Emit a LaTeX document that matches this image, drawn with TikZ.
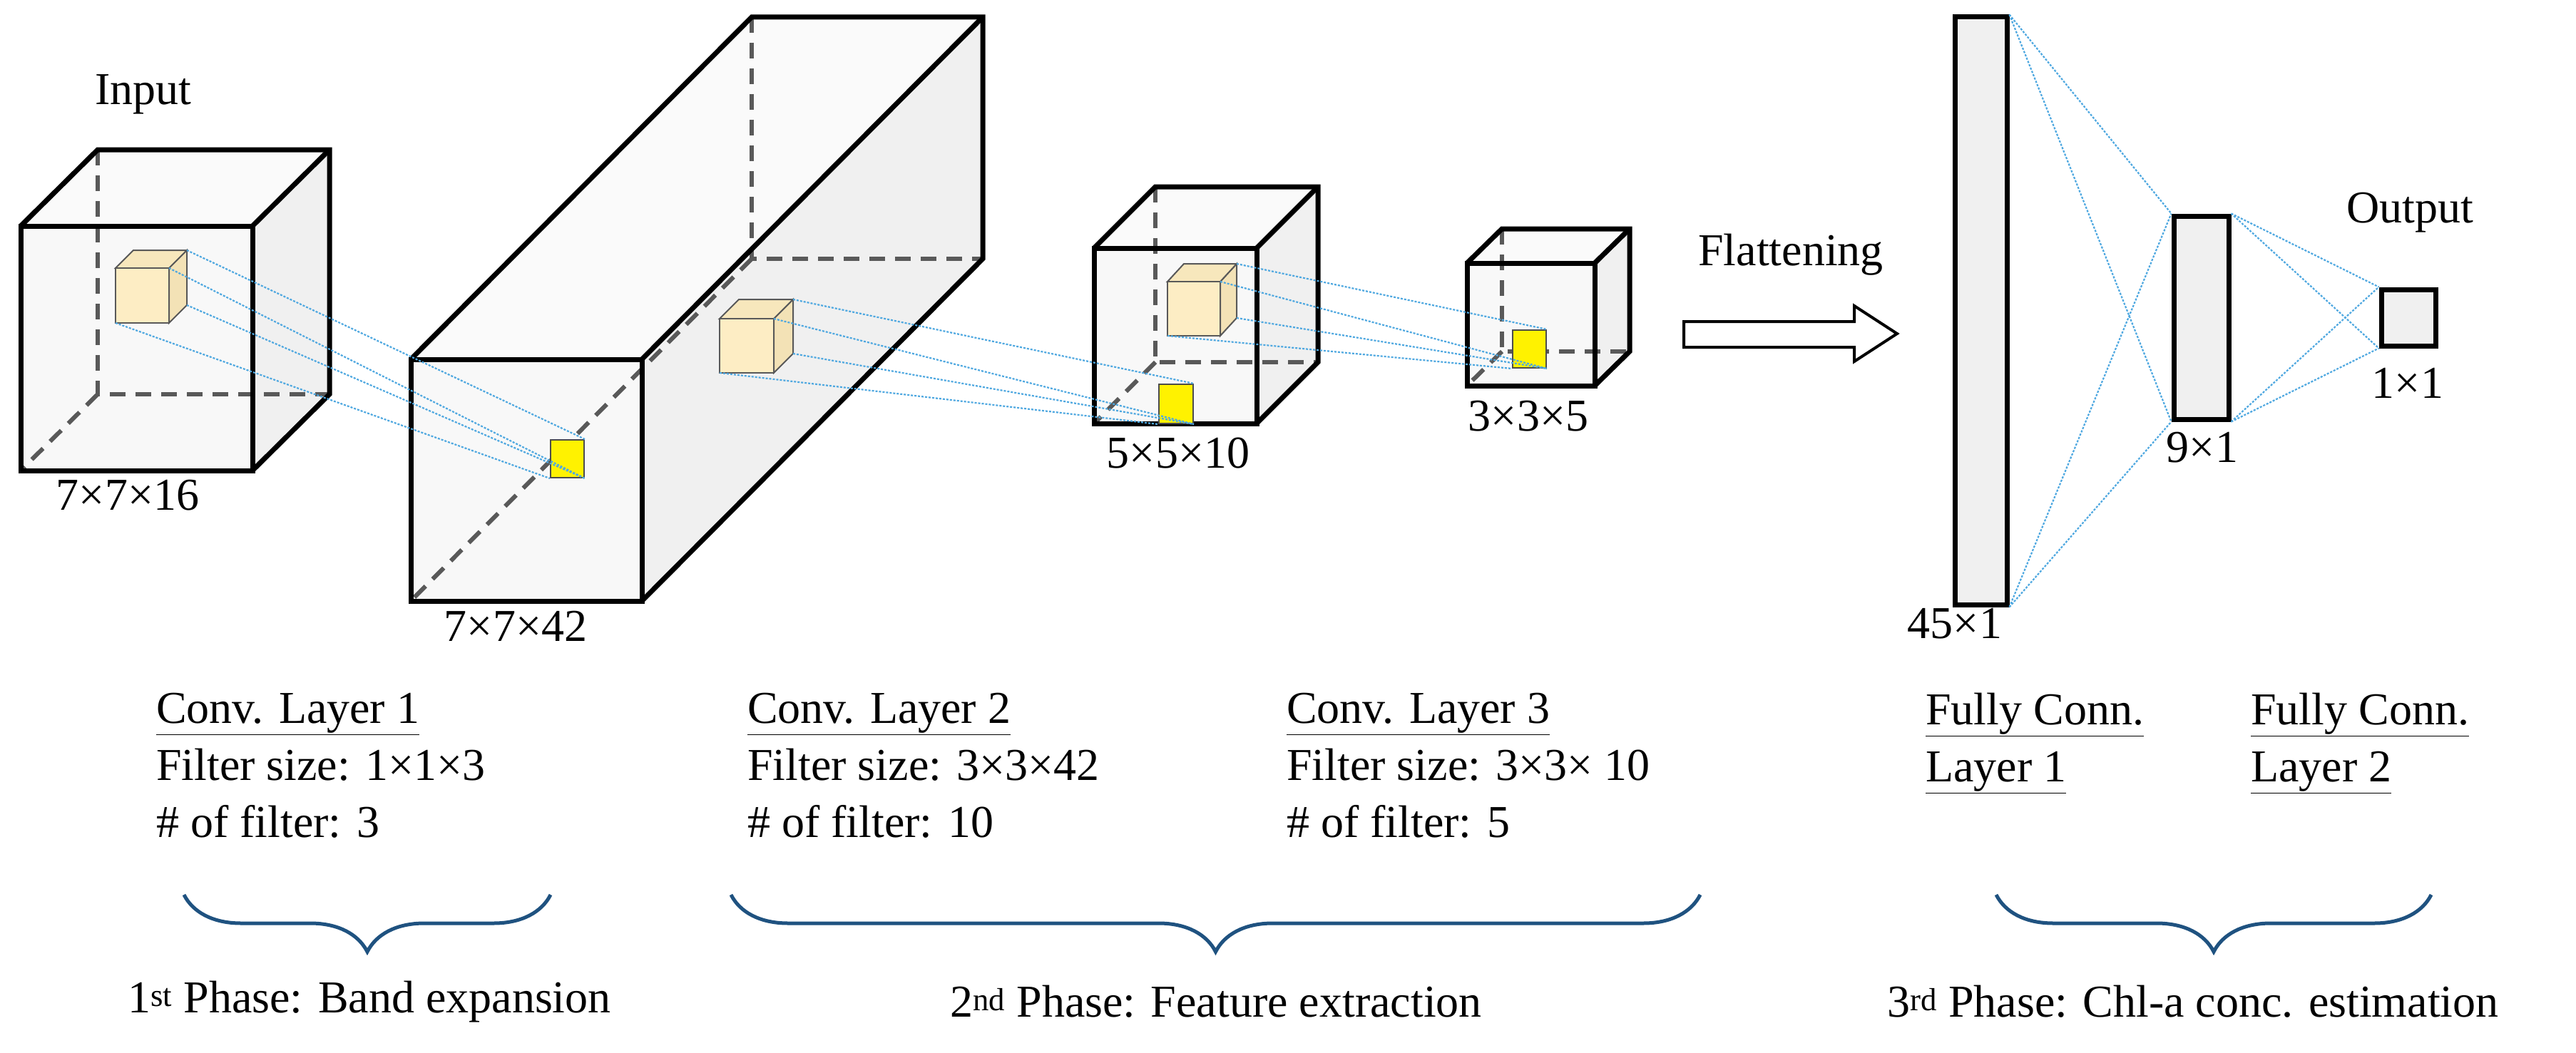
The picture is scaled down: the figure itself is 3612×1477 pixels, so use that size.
\documentclass[tikz,border=0pt]{standalone}
\usepackage{fontspec}
\setmainfont{Liberation Serif}
\usetikzlibrary{decorations.pathreplacing}
\definecolor{fc}{HTML}{F8F8F8}
\definecolor{sc}{HTML}{F0F0F0}
\definecolor{tc}{HTML}{FAFAFA}
\definecolor{cf}{HTML}{FDEDC4}
\definecolor{cs}{HTML}{F3E2B6}
\definecolor{bl}{HTML}{4FA8E0}
\definecolor{br}{HTML}{1F5280}
\newcommand\mycube[6]{%
 \fill[sc] (#3,#2)--({#3+#5},{#2+#6})--({#3+#5},{#4+#6})--(#3,#4)--cycle;
 \fill[tc] (#1,#2)--({#1+#5},{#2+#6})--({#3+#5},{#2+#6})--(#3,#2)--cycle;
 \fill[fc] (#1,#2) rectangle (#3,#4);
 \draw[hid] ({#1+#5},{#2+#6})--({#1+#5},{#4+#6})--({#3+#5},{#4+#6});
 \draw[hid] ({#1+#5},{#4+#6})--(#1,#4);
 \draw[outer] (#1,#2) rectangle (#3,#4);
 \draw[outer] (#1,#2)--({#1+#5},{#2+#6})--({#3+#5},{#2+#6})--({#3+#5},{#4+#6})--(#3,#4);
 \draw[outer] (#3,#2)--({#3+#5},{#2+#6});}
\newcommand\mycream[7]{%
 \filldraw[cs,draw=gray!70!black,line width=2] (#3,#2)--({#3+#5},{#2+#6})--({#3+#5},{#4+#6})--(#3,#4)--cycle;
 \filldraw[cs!60!cf,draw=gray!70!black,line width=2] (#1,#2)--({#1+#5},{#2+#6})--({#3+#5},{#2+#6})--(#3,#2)--cycle;
 \filldraw[cf,draw=gray!70!black,line width=2] (#1,#2) rectangle (#3,#4);
 \coordinate (#7btr) at ({#3+#5},{#2+#6});
 \coordinate (#7ftr) at (#3,#2);
 \coordinate (#7bbr) at ({#3+#5},{#4+#6});
 \coordinate (#7fbl) at (#1,#4);}
\begin{document}
\begin{tikzpicture}[x=1pt,y=-1pt,
 outer/.style={line width=7,line join=miter},
 hid/.style={line width=6,gray!70!black,dash pattern=on 22 off 14},
 yel/.style={fill=yellow,draw=black!70,line width=2},
 conn/.style={bl,line width=2.2,dash pattern=on 3 off 2},
 txt/.style={font=\fontsize{64}{80}\selectfont,inner sep=0,align=left},
 brc/.style={br,line width=5,decorate,decoration={brace,amplitude=80}}]
\useasboundingbox (0,0) rectangle (3612,1477);
\mycube{29}{317}{354}{660}{108}{-107}
\mycube{576}{504}{900}{843}{478}{-480}
\mycube{1534}{348}{1762}{594}{86}{-86}
\mycube{2057}{369}{2236}{541}{49}{-48}
\mycream{162}{376}{237}{453}{25}{-25}{a}
\mycream{1009}{447}{1085}{523}{27}{-27}{b}
\mycream{1637}{395}{1711}{471}{23}{-25}{c}
\node[yel,minimum width=47,minimum height=53,inner sep=0] (y2) at (795.5,643.5) {};
\node[yel,minimum width=48,minimum height=55,inner sep=0] (y3) at (1649,566.5) {};
\node[yel,minimum width=47,minimum height=53,inner sep=0] (y4) at (2144.5,489.5) {};
\foreach \c/\y in {a/y2,b/y3,c/y4}{
 \draw[conn] (\c btr)--(\y.north east);
 \draw[conn] (\c ftr)--(\y.south east);
 \draw[conn] (\c bbr)--(\y.south east);
 \draw[conn] (\c fbl)--(\y.south west);}
\node[txt] (in) at (201,132) {Input};
\node[txt] (l1) at (179,695) {7×7×16};
\node[txt] (l2) at (723,878) {7×7×42};
\node[txt] (l3) at (1652,636) {5×5×10};
\node[txt] (l4) at (2143,584) {3×3×5};
\node[txt] (fl) at (2511,357) {Flattening};
\draw[line width=4,fill=white,line join=miter] (2361,451)--(2600,451)--(2600,429)--(2660,468)--(2600,507)--(2600,487)--(2361,487)--cycle;
\node[draw,line width=7,fill=sc,minimum width=73,minimum height=824,inner sep=0] (f1) at (2777.5,436) {};
\node[draw,line width=7,fill=sc,minimum width=77,minimum height=285,inner sep=0] (f2) at (3086.5,445.5) {};
\node[draw,line width=7,fill=sc,minimum width=76,minimum height=79,inner sep=0] (f3) at (3377,445.5) {};
\foreach \a in {north east,south east}{\foreach \b in {north west,south west}{
 \draw[conn] (f1.\a)--(f2.\b); \draw[conn] (f2.\a)--(f3.\b);}}
\node[txt] (o) at (3379,298) {Output};
\node[txt] (n9) at (3088,628) {9×1};
\node[txt] (n1) at (3376,537) {1×1};
\node[txt] (n45) at (2741,875) {45×1};
\node[txt,anchor=north west] (c1) at (219,972) {\underline{Conv. Layer 1}\\Filter size: 1×1×3\\\# of filter: 3};
\node[txt,anchor=north west] (c2) at (1048,972) {\underline{Conv. Layer 2}\\Filter size: 3×3×42\\\# of filter: 10};
\node[txt,anchor=north west] (c3) at (1804,972) {\underline{Conv. Layer 3}\\Filter size: 3×3× 10\\\# of filter: 5};
\node[txt,anchor=north west] (c4) at (2700,972) {\underline{Fully Conn.}\\\underline{Layer 1}};
\node[txt,anchor=north west] (c5) at (3156,972) {\underline{Fully Conn.}\\\underline{Layer 2}};
\draw[brc] (772,1255)--(258,1255);
\draw[brc] (2384,1255)--(1025,1255);
\draw[brc] (3409,1255)--(2799,1255);
\node[txt] (p1) at (518,1405) {1\textsuperscript{st} Phase: Band expansion};
\node[txt] (p2) at (1705,1405) {2\textsuperscript{nd} Phase: Feature extraction};
\node[txt] (p3) at (3075,1405) {3\textsuperscript{rd} Phase: Chl-a conc. estimation};
\end{tikzpicture}
\end{document}
